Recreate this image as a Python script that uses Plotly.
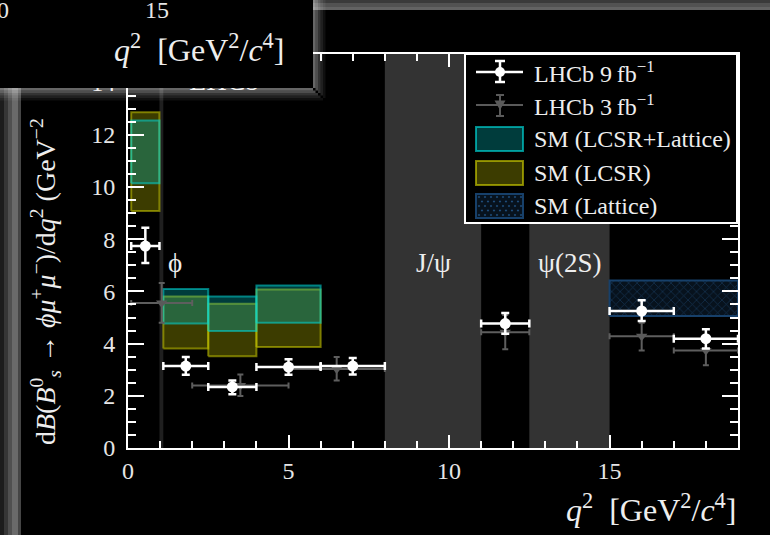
import plotly.graph_objects as go

# ---------------- data ----------------
# LHCb 9 fb^-1 (q2 bins, values, asymmetric errors)
lhcb9_lo = [0.1, 1.1, 2.5, 4.0, 6.0, 11.0, 15.0, 17.0]
lhcb9_hi = [0.98, 2.5, 4.0, 6.0, 8.0, 12.5, 17.0, 19.0]
lhcb9_val = [7.74, 3.14, 2.34, 3.10, 3.14, 4.77, 5.25, 4.19]
lhcb9_eup = [0.70, 0.35, 0.25, 0.30, 0.31, 0.40, 0.41, 0.36]
lhcb9_edn = [0.65, 0.33, 0.28, 0.29, 0.32, 0.39, 0.38, 0.38]

# LHCb 3 fb^-1
lhcb3_lo = [0.1, 2.0, 5.0, 11.0, 15.0, 17.0]
lhcb3_hi = [2.0, 5.0, 8.0, 12.5, 17.0, 19.0]
lhcb3_val = [5.56, 2.40, 3.03, 4.44, 4.28, 3.74]
lhcb3_eup = [0.76, 0.42, 0.46, 0.66, 0.52, 0.56]
lhcb3_edn = [0.76, 0.41, 0.44, 0.66, 0.54, 0.57]

# SM predictions (bin edges, lower, upper)
sm_bins_lo = [0.1, 1.1, 2.5, 4.0]
sm_bins_hi = [0.98, 2.5, 4.0, 6.0]
sm_comb_low = [10.15, 4.77, 4.48, 4.80]
sm_comb_high = [12.55, 6.09, 5.81, 6.23]
sm_lcsr_low = [9.08, 3.81, 3.52, 3.87]
sm_lcsr_high = [12.87, 5.81, 5.53, 6.07]
sm_latt_lo = [15.0]
sm_latt_hi = [19.0]
sm_latt_low = [5.06]
sm_latt_high = [6.42]

# vetoed regions
veto_names = ["ϕ", "J/ψ", "ψ(2S)"]
veto_lo = [0.98, 8.0, 12.5]
veto_hi = [1.1, 11.0, 15.0]

x_range = [0, 19]
y_range = [0, 15.1]
x_ticks = [0, 5, 10, 15]
y_ticks = [0, 2, 4, 6, 8, 10, 12, 14]

# ---------------- layout geometry ----------------
W, H = 770, 535
L, R, T, B = 128, 738, 54, 448
FONT = "Liberation Serif"


def px(x):
    return (x - L) / (R - L)


def py(y):
    return (B - y) / (B - T)


def box_path(lo, hi, low, high):
    xs, ys = [], []
    for a, b, c, d in zip(lo, hi, low, high):
        xs += [a, b, b, a, a, None]
        ys += [c, c, d, d, c, None]
    return xs, ys


fig = go.Figure()

# SM boxes
xs, ys = box_path(sm_bins_lo, sm_bins_hi, sm_lcsr_low, sm_lcsr_high)
fig.add_trace(go.Scatter(x=xs, y=ys, mode="lines", fill="toself",
                         fillcolor="rgba(200,200,0,0.30)",
                         line=dict(color="rgba(200,200,0,0.55)", width=2),
                         name="SM (LCSR)", showlegend=False, hoverinfo="skip"))
xs, ys = box_path(sm_bins_lo, sm_bins_hi, sm_comb_low, sm_comb_high)
fig.add_trace(go.Scatter(x=xs, y=ys, mode="lines", fill="toself",
                         fillcolor="rgba(0,200,200,0.30)",
                         line=dict(color="rgba(0,215,215,0.55)", width=2),
                         name="SM (LCSR+Lattice)", showlegend=False, hoverinfo="skip"))
xs, ys = box_path(sm_latt_lo, sm_latt_hi, sm_latt_low, sm_latt_high)
fig.add_trace(go.Scatter(x=xs, y=ys, mode="lines", fill="toself",
                         fillcolor="#07121d",
                         fillpattern=dict(shape="x", size=6, solidity=0.25,
                                          fgcolor="#1d4a75", bgcolor="#07121d"),
                         line=dict(color="#17406a", width=2),
                         name="SM (Lattice)", showlegend=False, hoverinfo="skip"))

# LHCb 3 fb-1
c3 = [(a + b) / 2 for a, b in zip(lhcb3_lo, lhcb3_hi)]
w3 = [(b - a) / 2 for a, b in zip(lhcb3_lo, lhcb3_hi)]
fig.add_trace(go.Scatter(
    x=c3, y=lhcb3_val, mode="markers",
    marker=dict(symbol="triangle-down", size=10, color="#5a5a5a"),
    error_y=dict(type="data", array=lhcb3_eup, arrayminus=lhcb3_edn,
                 color="#5e5e5e", thickness=2, width=3),
    error_x=dict(type="data", array=w3, color="#5e5e5e", thickness=2, width=3),
    name="LHCb 3 fb-1", showlegend=False))

# LHCb 9 fb-1
c9 = [(a + b) / 2 for a, b in zip(lhcb9_lo, lhcb9_hi)]
w9 = [(b - a) / 2 for a, b in zip(lhcb9_lo, lhcb9_hi)]
fig.add_trace(go.Scatter(
    x=c9, y=lhcb9_val, mode="markers",
    marker=dict(symbol="circle", size=11, color="white"),
    error_y=dict(type="data", array=lhcb9_eup, arrayminus=lhcb9_edn,
                 color="white", thickness=2.5, width=4),
    error_x=dict(type="data", array=w9, color="white", thickness=2.5, width=4),
    name="LHCb 9 fb-1", showlegend=False))

# LHCb label (drawn in plot layer so the overlay panel hides its top)
fig.add_trace(go.Scatter(x=[3.0], y=[13.97], mode="text", text=["LHCb"],
                         textfont=dict(family=FONT, size=28, color="#eeeeee"),
                         showlegend=False, hoverinfo="skip"))

shapes = []
# veto bands
for lo, hi, nm in zip(veto_lo, veto_hi, veto_names):
    col = "#1f1f1f" if nm == "ϕ" else "#333333"
    shapes.append(dict(type="rect", xref="x", yref="paper", x0=lo, x1=hi, y0=0, y1=1,
                       fillcolor=col, line=dict(width=0), layer="below"))

annotations = []
for lo, hi, nm in zip(veto_lo, veto_hi, veto_names):
    xc = hi + 0.35 if nm == "ϕ" else (lo + hi) / 2
    annotations.append(dict(x=xc, y=7.1, xref="x", yref="y", text=nm, showarrow=False,
                            font=dict(family=FONT, size=27, color="#eeeeee")))


def prect(x0, y0, x1, y1, fill, line=None, lw=0, layer="above"):
    d = dict(type="rect", xref="paper", yref="paper", x0=px(x0), x1=px(x1),
             y0=py(y1), y1=py(y0), fillcolor=fill, layer=layer,
             line=dict(width=lw, color=line or fill))
    return d


def pline(x0, y0, x1, y1, col, w):
    return dict(type="line", xref="paper", yref="paper", x0=px(x0), x1=px(x1),
                y0=py(y0), y1=py(y1), line=dict(color=col, width=w), layer="above")


# legend box
shapes.append(prect(465, 54, 737, 223, "black", "white", 2))
# row 1: LHCb 9
shapes.append(pline(476, 72, 523, 72, "white", 2.5))
shapes.append(pline(500, 61, 500, 82, "white", 2.5))
shapes.append(pline(495, 61, 505, 61, "white", 2.5))
shapes.append(pline(495, 82, 505, 82, "white", 2.5))
shapes.append(dict(type="circle", xref="paper", yref="paper", x0=px(495), x1=px(505),
                   y0=py(77), y1=py(67), fillcolor="white", line=dict(width=0), layer="above"))
# row 2: LHCb 3
g = "#5a5a5a"
shapes.append(pline(476, 105, 523, 105, g, 2))
shapes.append(pline(500, 95, 500, 116, g, 2))
shapes.append(pline(496, 95, 504, 95, g, 2))
shapes.append(pline(496, 116, 504, 116, g, 2))
shapes.append(dict(type="path", xref="paper", yref="paper",
                   path="M%f,%f L%f,%f L%f,%f Z" % (px(494.5), py(100.5), px(505.5), py(100.5), px(500), py(110)),
                   fillcolor=g, line=dict(width=0), layer="above"))
# rows 3-5: boxes
shapes.append(prect(476, 127, 523, 151, "rgba(0,200,200,0.30)", "rgba(0,215,215,0.65)", 2))
shapes.append(prect(476, 161, 523, 185, "rgba(200,200,0,0.30)", "rgba(200,200,0,0.65)", 2))
shapes.append(prect(476, 194, 523, 218, "#07121d", "#17406a", 2))
dots = []
for i in range(8):
    for j in range(5):
        cx = 479 + i * 6 + (3 if j % 2 else 0)
        cy = 197 + j * 4.5
        if cx > 521:
            continue
        dots.append("M%f,%f L%f,%f L%f,%f L%f,%f Z" % (
            px(cx - 1.3), py(cy), px(cx), py(cy - 1.3), px(cx + 1.3), py(cy), px(cx), py(cy + 1.3)))
shapes.append(dict(type="path", xref="paper", yref="paper", path=" ".join(dots),
                   fillcolor="#1f4d7a", line=dict(width=0), layer="above"))

leg_texts = ["LHCb 9\u2009fb<sup>−1</sup>", "LHCb 3\u2009fb<sup>−1</sup>",
             "SM (LCSR+Lattice)", "SM (LCSR)", "SM (Lattice)"]
leg_y = [72, 105, 139, 173, 206]
for t, yy in zip(leg_texts, leg_y):
    annotations.append(dict(x=px(532), y=py(yy), xref="paper", yref="paper", text=t,
                            xanchor="left", yanchor="middle", showarrow=False,
                            font=dict(family=FONT, size=24, color="#eeeeee")))

# window frame strips
for x0, x1, c in [(0, 4, "#1c1c1c"), (4, 8, "#363636"), (8, 12, "#505050"),
                  (12, 18, "#6a6a6a"), (18, 21, "#454545")]:
    shapes.append(prect(x0, 0, x1, H, c))
for y0, y1, c in [(0, 3, "#3a3a3a"), (3, 7, "#525252"), (7, 10, "#636363")]:
    shapes.append(prect(0, y0, W, y1, c))
# overlay panel
shapes.append(prect(0, 0, 313, 88, "black"))
for k, a in enumerate([0.40, 0.30, 0.20, 0.12, 0.06]):
    shapes.append(prect(313 + 2.5 * k, 0, 315.5 + 2.5 * k, 88 + 2.5 * k, "rgba(255,255,255,%.2f)" % a))
    shapes.append(prect(0, 88 + 2.5 * k, 313 + 2.5 * k, 90.5 + 2.5 * k, "rgba(255,255,255,%.2f)" % a))

qtitle = "<i>q</i><sup>2</sup>\u2002[GeV<sup>2</sup>/<i>c</i><sup>4</sup>]"
annotations.append(dict(x=px(738), y=py(508), xref="paper", yref="paper", text=qtitle,
                        xanchor="right", yanchor="middle", showarrow=False,
                        font=dict(family=FONT, size=32, color="#eeeeee")))
annotations.append(dict(x=px(286), y=py(48), xref="paper", yref="paper", text=qtitle,
                        xanchor="right", yanchor="middle", showarrow=False,
                        font=dict(family=FONT, size=32, color="#eeeeee")))
annotations.append(dict(x=px(157), y=py(9.5), xref="paper", yref="paper", text="15",
                        xanchor="center", yanchor="middle", showarrow=False,
                        font=dict(family=FONT, size=24, color="#e6e6e6")))
annotations.append(dict(x=px(-3), y=py(9.5), xref="paper", yref="paper", text="10",
                        xanchor="center", yanchor="middle", showarrow=False,
                        font=dict(family=FONT, size=24, color="#e6e6e6")))
ytitle = ("d<i>B</i>(<i>B</i><sup>0</sup><sub><i>s</i></sub> → <i>ϕμ</i><sup>+</sup>"
          "<i>μ</i><sup>−</sup>)/d<i>q</i><sup>2</sup> (GeV<sup>−2</sup>")
annotations.append(dict(x=px(45), y=py(282), xref="paper", yref="paper", text=ytitle,
                        textangle=-90, xanchor="center", yanchor="middle", showarrow=False,
                        font=dict(family=FONT, size=28, color="#eeeeee")))

axis_common = dict(showline=True, linecolor="white", linewidth=2, mirror="allticks",
                   ticks="inside", tickcolor="white", tickwidth=2, showgrid=False,
                   zeroline=False, tickfont=dict(family=FONT, size=24, color="#e6e6e6"))
fig.update_layout(
    width=W, height=H, autosize=False,
    font=dict(family=FONT, color="#eeeeee"),
    margin=dict(l=L, r=W - R, t=T, b=H - B, pad=0),
    paper_bgcolor="black", plot_bgcolor="black",
    showlegend=False,
    xaxis=dict(range=x_range, tickvals=x_ticks, ticklen=13,
               minor=dict(ticks="inside", dtick=1, ticklen=7, tickwidth=2, tickcolor="white"),
               **axis_common),
    yaxis=dict(range=y_range, tickvals=y_ticks, ticklen=16, ticklabelstandoff=6,
               minor=dict(ticks="inside", dtick=0.5, ticklen=8, tickwidth=2, tickcolor="white"),
               **axis_common),
    shapes=shapes, annotations=annotations,
)

fig.write_html("out.html", config={"displayModeBar": False},
               post_script="document.body.style.margin='0';document.body.style.background='black';")
